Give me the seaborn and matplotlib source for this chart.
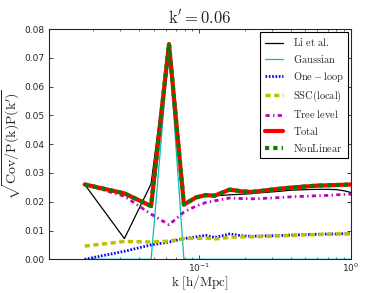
import matplotlib
matplotlib.use("Agg")
import matplotlib.pyplot as plt
import seaborn as sns

k = [0.0175, 0.032, 0.048, 0.063, 0.079, 0.095, 0.11, 0.126, 0.142, 0.158, 0.19,
     0.22, 0.25, 0.3, 0.35, 0.4, 0.5, 0.6, 0.7, 0.8, 0.9, 1.0]

li_et_al = [0.0260, 0.0072, 0.0262, 0.0745, 0.0190, 0.0215, 0.0223, 0.0221, 0.0222, 0.0224, 0.0226,
            0.0228, 0.0231, 0.0234, 0.0237, 0.0240, 0.0242, 0.0243, 0.0243, 0.0242, 0.0238, 0.0232]
gaussian = [0.0, 0.0, 0.0, 0.0735, 0.0, 0.0, 0.0, 0.0, 0.0, 0.0, 0.0,
            0.0, 0.0, 0.0, 0.0, 0.0, 0.0, 0.0, 0.0, 0.0, 0.0, 0.0]
one_loop = [0.0000, 0.0028, 0.0050, 0.0060, 0.0072, 0.0078, 0.0083, 0.0076, 0.0082, 0.0088, 0.0082,
            0.0080, 0.0081, 0.0082, 0.0083, 0.0084, 0.0086, 0.0087, 0.0088, 0.0088, 0.0089, 0.0089]
ssc_local = [0.0046, 0.0062, 0.0060, 0.0063, 0.0072, 0.0073, 0.0074, 0.0071, 0.0073, 0.0077, 0.0078,
             0.0078, 0.0079, 0.0080, 0.0082, 0.0083, 0.0085, 0.0086, 0.0087, 0.0088, 0.0088, 0.0088]
tree_level = [0.0260, 0.0219, 0.0157, 0.0120, 0.0164, 0.0185, 0.0197, 0.0203, 0.0208, 0.0213, 0.0211,
              0.0210, 0.0211, 0.0213, 0.0215, 0.0217, 0.0219, 0.0221, 0.0222, 0.0224, 0.0225, 0.0226]
total = [0.0260, 0.0229, 0.0185, 0.0748, 0.0190, 0.0215, 0.0223, 0.0221, 0.0232, 0.0242, 0.0236,
         0.0234, 0.0237, 0.0242, 0.0246, 0.0249, 0.0253, 0.0256, 0.0257, 0.0258, 0.0259, 0.0260]
nonlinear = total

sns.set_style("ticks")
plt.rcParams["font.family"] = ["DejaVu Sans"]
plt.rcParams["mathtext.fontset"] = "cm"
plt.rcParams["xtick.direction"] = "in"
plt.rcParams["ytick.direction"] = "in"
plt.rcParams["xtick.top"] = True
plt.rcParams["ytick.right"] = True

fig = plt.figure(figsize=(3.9, 2.93), dpi=100)
ax = fig.add_axes([0.126, 0.115, 0.774, 0.786])

series = [
    (li_et_al, r"$\mathrm{Li\ et\ al.}$", "k", 0.9, "-"),
    (gaussian, r"$\mathrm{Gaussian}$", "c", 0.9, "-"),
    (one_loop, r"$\mathrm{One-loop}$", "b", 2, (0, (0.6, 0.6))),
    (ssc_local, r"$\mathrm{SSC(local)}$", "y", 2.5, (0, (1.5, 1))),
    (tree_level, r"$\mathrm{Tree\ level}$", "m", 2, (0, (1.5, 1.2, 0.5, 1.2))),
    (total, r"$\mathrm{Total}$", "r", 3, "-"),
    (nonlinear, r"$\mathrm{NonLinear}$", "g", 3, (0, (1, 1))),
]
for vals, lab, col, lw, ls in series:
    sns.lineplot(x=k, y=vals, ax=ax, label=lab, color=col, lw=lw, linestyle=ls)

ax.set_xscale("log")
ax.set_xlim(0.0102, 1)
ax.set_ylim(0, 0.08)
ax.set_yticks([0, 0.01, 0.02, 0.03, 0.04, 0.05, 0.06, 0.07, 0.08])
ax.tick_params(labelsize=6.5, length=3, width=0.6)
ax.tick_params(axis="x", pad=1.5)
ax.tick_params(which="minor", length=1.5, width=0.5)
for s in ax.spines.values():
    s.set_linewidth(0.8)

ax.set_title(r"$\mathrm{k'=0.06}$", fontsize=12, pad=4)
ax.set_xlabel(r"$\mathrm{k\ [h/Mpc]}$", fontsize=9.5)
ax.xaxis.set_label_coords(0.5, -0.062)
ax.set_ylabel(r"$\sqrt{\mathrm{Cov/P(k)P(k')}}$", fontsize=10, labelpad=1)

leg = ax.legend(loc="upper right", fontsize=7.5, handlelength=1.8, fancybox=False,
                framealpha=1, borderaxespad=0.3, labelspacing=0.45, handletextpad=0.9)
leg.get_frame().set_edgecolor("black")
leg.get_frame().set_linewidth(0.8)

fig.savefig("out.png", dpi=100)
